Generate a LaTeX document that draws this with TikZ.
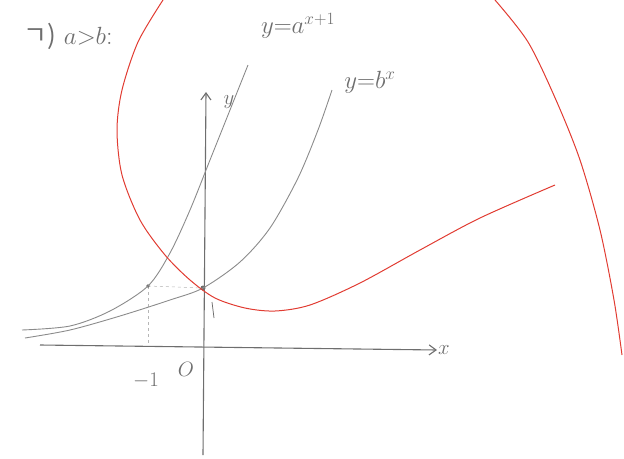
\documentclass[tikz,border=0pt]{standalone}
\usepackage{amsmath,amssymb}
\usepackage{fontspec}
\newfontfamily\kor{Noto Sans CJK KR}
\usetikzlibrary{arrows.meta,positioning,calc}
\definecolor{pencil}{RGB}{110,110,110}
\definecolor{redpen}{RGB}{225,60,50}

\begin{document}
\begin{tikzpicture}[x=1pt,y=-1pt,
    axis/.style={draw=pencil,line width=1.1pt,-{Straight Barb[length=7pt,width=10pt]}},
    graycurve/.style={draw=pencil!80,line width=0.9pt},
    redcurve/.style={draw=redpen,line width=1pt},
    guide/.style={draw=pencil!50,dashed,line width=0.5pt},
    label/.style={text=pencil,inner sep=1pt},
    big/.style={font=\fontsize{26}{28}\selectfont},
    mid/.style={font=\fontsize{20}{22}\selectfont}]
            \useasboundingbox (0,0) rectangle (624,458);
            % heading
            \node[label,big] (head) at (68,36) {{\kor ㄱ)} $a{>}b$:};
            % axes
            \coordinate (xstart) at (40,345);
            \coordinate (xend) at (437,350);
            \coordinate (ystart) at (203,455);
            \coordinate (yend) at (206,92);
            \draw[axis] (xstart) -- (xend);
            \draw[axis] (ystart) -- (yend);
            \node[label,mid] (xlab) [right=0pt of xend] {$x$};
            \node[label,mid] (ylab) at (229,102) {$y$};
            \node[label,mid] (orig) at (186,369) {$O$};
            \node[label,mid] (minus) at (146,381) {$-1$};
            % guides to the point at x=-1
            \coordinate (pa) at (148,286);
            \coordinate (pb) at (203,288);
            \draw[guide] (pa) -- (148,345);
            \draw[guide] (pa) -- (pb);
            \fill[pencil] (pa) circle (1.8pt);
            \fill[pencil] (pb) circle (2.5pt);
            \draw[pencil,line width=0.8pt] (212,302) -- (214,318);
            % y = a^{x+1}
            \draw[graycurve] plot[smooth] coordinates {(22,330) (70,326) (110,311) (148,286) (170,253) (190,210) (210,160) (230,110) (248,65)};
            % y = b^x
            \draw[graycurve] plot[smooth] coordinates {(25,338) (70,330) (120,316) (170,300) (203,288) (240,262) (270,228) (298,178) (318,130) (332,90)};
            \node[label,big] (alab) at (298,26) {$y{=}a^{x+1}$};
            \node[label,big] (blab) at (370,82) {$y{=}b^{x}$};
            % red curves
            \draw[redcurve] plot[smooth] coordinates {(163,0) (138,42) (122,90) (117,130) (122,175) (140,220) (165,255) (190,280) (215,298) (245,308) (275,311) (310,305) (360,283) (420,250) (480,218) (555,185)};
            \draw[redcurve] plot[smooth] coordinates {(495,0) (528,42) (556,100) (580,160) (600,230) (614,300) (622,355)};
        \end{tikzpicture}
\end{document}
